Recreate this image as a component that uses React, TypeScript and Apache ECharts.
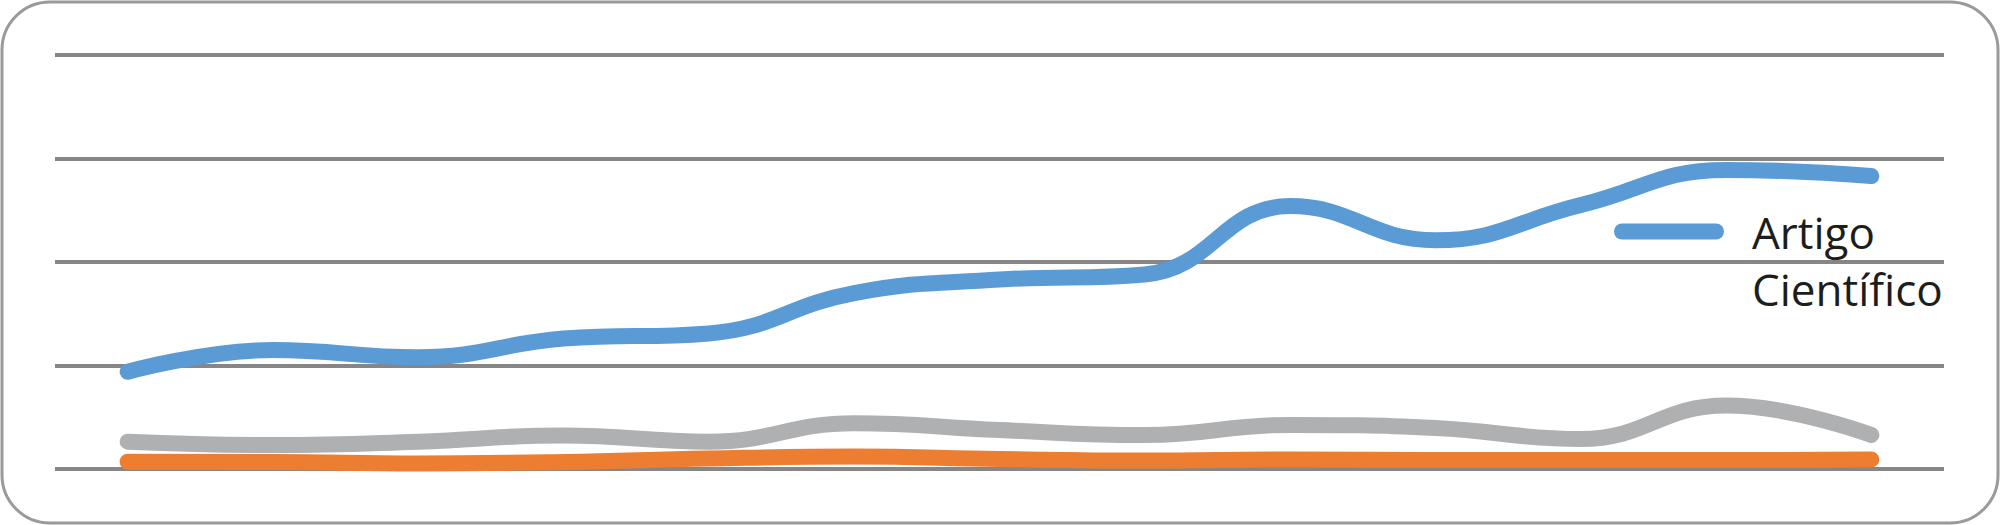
import { useEffect, useRef } from "react";
import * as echarts from "echarts";

const categories = ["1", "2", "3", "4", "5", "6", "7", "8", "9", "10", "11", "12", "13"];
const artigo = [4.7, 5.75, 5.4, 6.3, 6.55, 8.5, 9.15, 9.4, 12.7, 11.05, 12.75, 14.45, 14.15];
const serieCinza = [1.32, 1.16, 1.32, 1.62, 1.32, 2.21, 1.88, 1.64, 2.13, 1.98, 1.45, 3.07, 1.64];
const serieLaranja = [0.35, 0.34, 0.27, 0.34, 0.51, 0.6, 0.48, 0.41, 0.46, 0.43, 0.43, 0.43, 0.46];

export default function App() {
  const ref = useRef<HTMLDivElement>(null);

  useEffect(() => {
    document.body.style.margin = "0";
    if (!ref.current) return;
    const chart = echarts.init(ref.current, undefined, { renderer: "svg" });
    const line = (name: string, data: number[], color: string) => ({
      name,
      type: "line",
      data,
      smooth: 0.45,
      showSymbol: false,
      symbol: "none",
      lineStyle: { color, width: 16, cap: "round", join: "round" },
      itemStyle: { color },
    });
    const txt = { fontFamily: "Open Sans", fontSize: 44, lineHeight: 57, color: "#1d1d1b" };
    chart.setOption({
      animation: false,
      backgroundColor: "#ffffff",
      grid: { left: 55, right: 56, top: 55, bottom: 56 },
      legend: {
        data: ["Artigo Científico"],
        left: 1614,
        top: 146,
        orient: "vertical",
        icon: "path://M8,0 H102 A8,8 0 0 1 102,16 H8 A8,8 0 0 1 8,0 Z",
        itemWidth: 110,
        itemHeight: 16,
        itemGap: 0,
        itemStyle: { color: "#5B9BD5", borderWidth: 0 },
        // icon sits on the first line of the two-line label
        formatter: () => "{g|}\n{g|}{t|Artigo}\n{g|}{t|Científico}",
        textStyle: {
          ...txt,
          rich: {
            g: { width: 23, lineHeight: 57, fontSize: 44 },
            t: txt,
          },
        },
        padding: 0,
      },
      xAxis: {
        type: "category",
        data: categories,
        boundaryGap: true,
        axisLine: { show: false },
        axisTick: { show: false },
        axisLabel: { show: false },
      },
      yAxis: {
        type: "value",
        min: 0,
        max: 20,
        interval: 5,
        axisLine: { show: false },
        axisTick: { show: false },
        axisLabel: { show: false },
        splitLine: { lineStyle: { color: "#868686", width: 4 } },
      },
      graphic: [
        {
          type: "rect",
          shape: { x: 2, y: 2, width: 1996, height: 521, r: 48 },
          style: { fill: "none", stroke: "#9a9a9c", lineWidth: 3 },
          silent: true,
        },
      ],
      series: [
        line("Artigo Científico", artigo, "#5B9BD5"),
        line("Série 2", serieCinza, "#AFB0B2"),
        line("Série 3", serieLaranja, "#ED7D31"),
      ],
    });
    const onResize = () => chart.resize();
    window.addEventListener("resize", onResize);
    return () => {
      window.removeEventListener("resize", onResize);
      chart.dispose();
    };
  }, []);

  return <div ref={ref} style={{ width: 2000, height: 525 }} />;
}
